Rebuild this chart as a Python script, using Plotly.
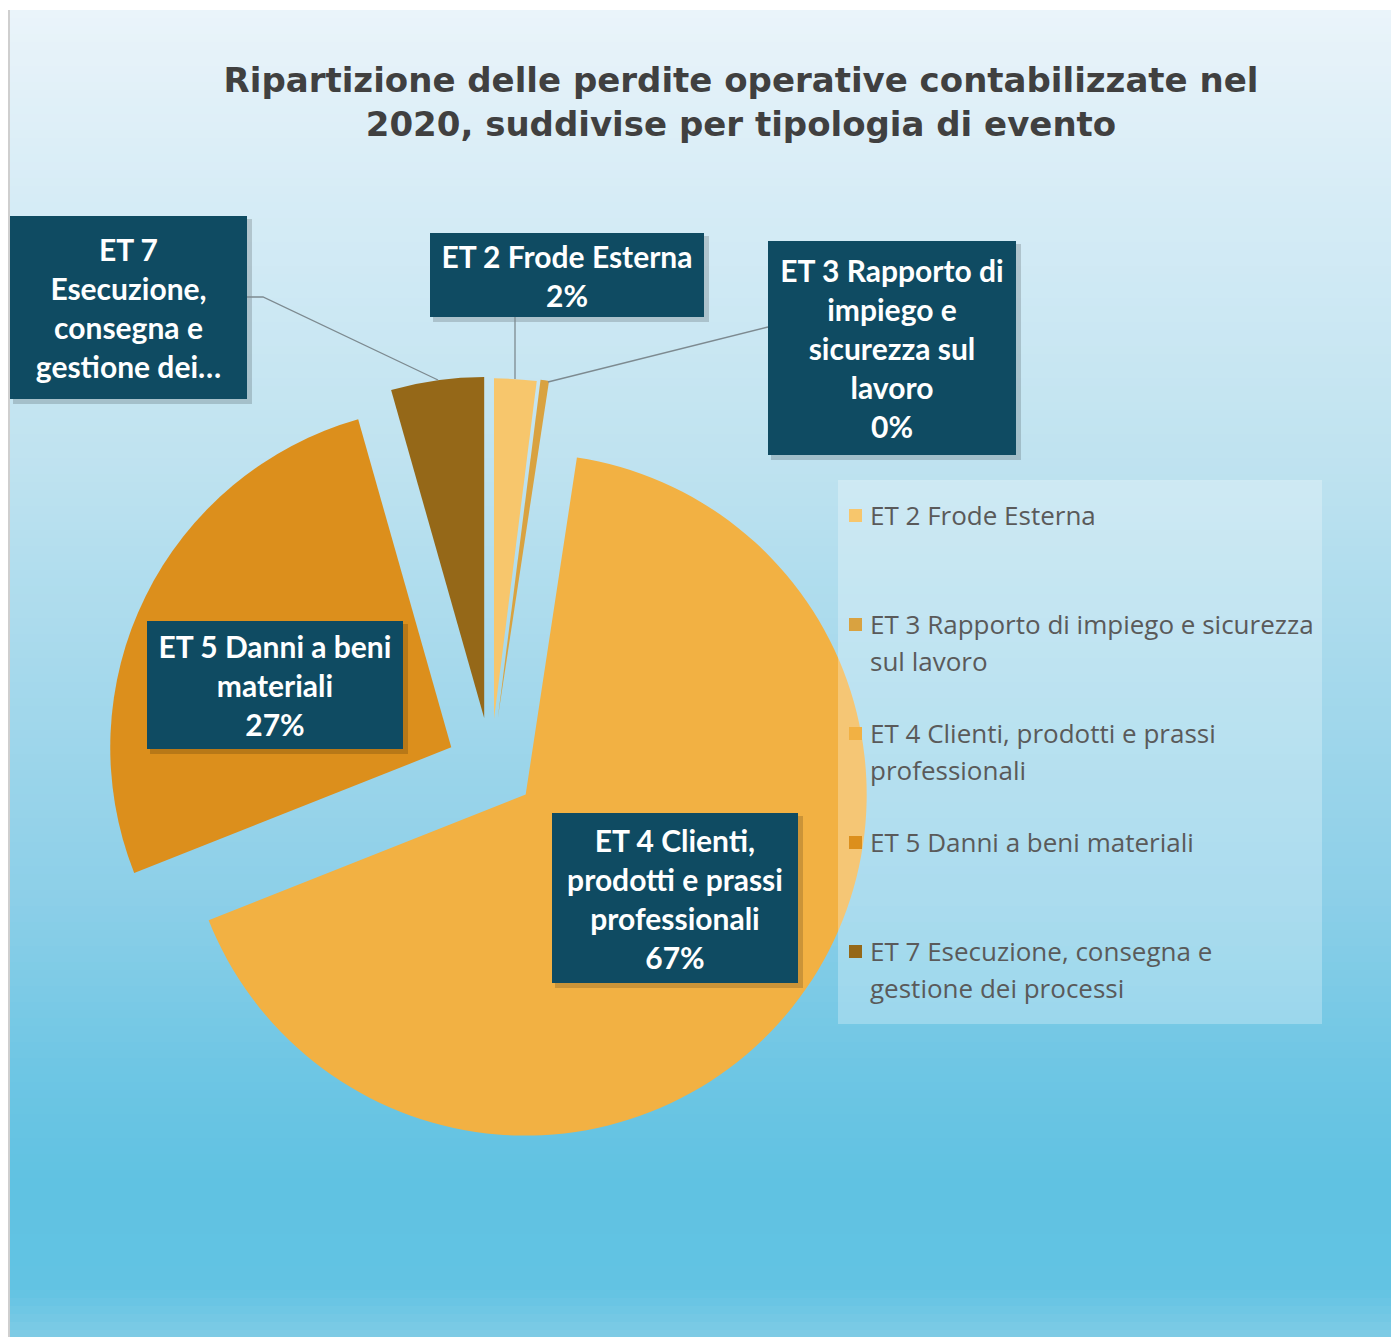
import plotly.graph_objects as go

W, H = 1391, 1337

# ---------------- data ----------------
labels = [
    "ET 2 Frode Esterna",
    "ET 3 Rapporto di impiego e sicurezza sul lavoro",
    "ET 4 Clienti, prodotti e prassi professionali",
    "ET 5 Danni a beni materiali",
    "ET 7 Esecuzione, consegna e gestione dei processi",
]
values = [2.0, 0.4, 66.6, 26.6, 4.4]          # percentage shares
colors = ["#F7C66C", "#D9A240", "#F2B143", "#DC8F1C", "#956818"]
pulls = [0.14, 0.145, 0.13, 0.13, 0.145]

# data-label text (wrapped as in the original), ET 7 label is truncated without %
label_lines = [
    ["ET 2 Frode Esterna"],
    ["ET 3 Rapporto di", "impiego e", "sicurezza sul", "lavoro"],
    ["ET 4 Clienti,", "prodotti e prassi", "professionali"],
    ["ET 5 Danni a beni", "materiali"],
    ["ET 7", "Esecuzione,", "consegna e", "gestione dei…"],
]
show_pct = [True, True, True, True, False]

legend_lines = [
    ["ET 2 Frode Esterna"],
    ["ET 3 Rapporto di impiego e sicurezza", "sul lavoro"],
    ["ET 4 Clienti, prodotti e prassi", "professionali"],
    ["ET 5 Danni a beni materiali"],
    ["ET 7 Esecuzione, consegna e", "gestione dei processi"],
]

title_text = "Ripartizione delle perdite operative contabilizzate nel<br>2020, suddivise per tipologia di evento"

# ---------------- layout helpers (pixel -> paper) ----------------
def px(x):
    return x / W


def py(y):
    return 1 - y / H


shapes = []
annotations = []

# background gradient (vertical)
stops = [
    (10, (234, 244, 250)),
    (200, (214, 236, 246)),
    (450, (192, 227, 240)),
    (670, (166, 217, 236)),
    (900, (140, 207, 232)),
    (1070, (110, 198, 228)),
    (1180, (96, 194, 226)),
    (1290, (98, 195, 227)),
    (1337, (128, 204, 229)),
]


def color_at(y):
    for (y0, c0), (y1, c1) in zip(stops[:-1], stops[1:]):
        if y0 <= y <= y1:
            t = (y - y0) / (y1 - y0)
            return tuple(round(a + (b - a) * t) for a, b in zip(c0, c1))
    return stops[-1][1]


step = 8
y = 10
while y < H:
    yb = min(y + step, H)
    c = color_at((y + yb) / 2)
    shapes.append(dict(type="rect", xref="paper", yref="paper", layer="below",
                       x0=px(10), x1=px(W + 2), y0=py(yb + 1), y1=py(y),
                       fillcolor="rgb(%d,%d,%d)" % c, line=dict(width=0)))
    y = yb
# thin grey frame line on the left
shapes.append(dict(type="line", xref="paper", yref="paper", layer="below",
                   x0=px(9), x1=px(9), y0=py(10), y1=py(H),
                   line=dict(color="#CFCFCF", width=2)))

# ---------------- pie ----------------
R, CX, CY = 341, 491, 767
half = R * (1 + max(pulls))
fig = go.Figure(go.Pie(
    labels=labels,
    values=values,
    sort=False,
    direction="clockwise",
    rotation=0,
    pull=pulls,
    marker=dict(colors=colors, line=dict(width=0)),
    textinfo="none",
    hoverinfo="label+percent",
    showlegend=False,
    domain=dict(x=[px(CX - half), px(CX + half)], y=[py(CY + half), py(CY - half)]),
))

# ---------------- data label boxes ----------------
boxes = [
    (430, 233, 704, 317),
    (768, 241, 1016, 455),
    (552, 813, 798, 983),
    (147, 621, 403, 749),
    (10, 216, 247, 399),
]
total = sum(values)
box_color = "#0F4B62"
for i, (x0, y0, x1, y1) in enumerate(boxes):
    lines = list(label_lines[i])
    if show_pct[i]:
        lines.append("%d%%" % round(values[i] / total * 100))
    # soft shadow
    shapes.append(dict(type="rect", xref="paper", yref="paper", layer="above",
                       x0=px(x0 + 3), x1=px(x1 + 5), y0=py(y1 + 5), y1=py(y0 + 3),
                       fillcolor="rgba(0,0,0,0.16)", line=dict(width=0)))
    annotations.append(dict(
        xref="paper", yref="paper", x=px((x0 + x1) / 2), y=py((y0 + y1) / 2),
        xanchor="center", yanchor="middle", showarrow=False,
        width=x1 - x0, height=y1 - y0, borderpad=0, borderwidth=0,
        bgcolor=box_color, align="center", valign="middle",
        text="<b>" + "<br>".join(lines) + "</b>",
        font=dict(family="Lato, Open Sans, sans-serif", size=30, color="#FFFFFF"),
    ))

# leader lines
leader_paths = [
    [(515, 317), (515, 379)],
    [(768, 327), (548, 382)],
    [(247, 297), (263, 297), (438, 380)],
]
for pts in leader_paths:
    path = "M " + " L ".join("%f,%f" % (px(a), py(b)) for a, b in pts)
    shapes.append(dict(type="path", xref="paper", yref="paper", layer="above",
                       path=path, line=dict(color="#7D8A90", width=1.3)))

# ---------------- legend (manual, evenly spaced as in the original) ----------------
shapes.append(dict(type="rect", xref="paper", yref="paper", layer="above",
                   x0=px(838), x1=px(1322), y0=py(1024), y1=py(480),
                   fillcolor="rgba(255,255,255,0.27)", line=dict(width=0)))
leg_y0, leg_pitch, line_pitch = 515, 109, 37
for i, lines in enumerate(legend_lines):
    yc = leg_y0 + i * leg_pitch
    shapes.append(dict(type="rect", xref="paper", yref="paper", layer="above",
                       x0=px(849), x1=px(862), y0=py(yc + 7), y1=py(yc - 6),
                       fillcolor=colors[i], line=dict(width=0)))
    for j, ln in enumerate(lines):
        annotations.append(dict(
            xref="paper", yref="paper", x=px(868), y=py(yc + j * line_pitch),
            xanchor="left", yanchor="middle", showarrow=False, text=ln,
            font=dict(family="Open Sans, Lato, sans-serif", size=26, color="#5A5A5A"),
        ))

fig.update_layout(
    width=W, height=H, autosize=False,
    margin=dict(l=0, r=0, t=0, b=0),
    paper_bgcolor="#FFFFFF",
    plot_bgcolor="rgba(0,0,0,0)",
    title=dict(text="<b>" + title_text + "</b>", x=px(741), xanchor="center",
               xref="paper", yref="container", y=py(92), yanchor="middle",
               font=dict(family="DejaVu Sans, sans-serif", size=34, color="#404040")),
    shapes=shapes,
    annotations=annotations,
)

fig.write_html("out.html")
